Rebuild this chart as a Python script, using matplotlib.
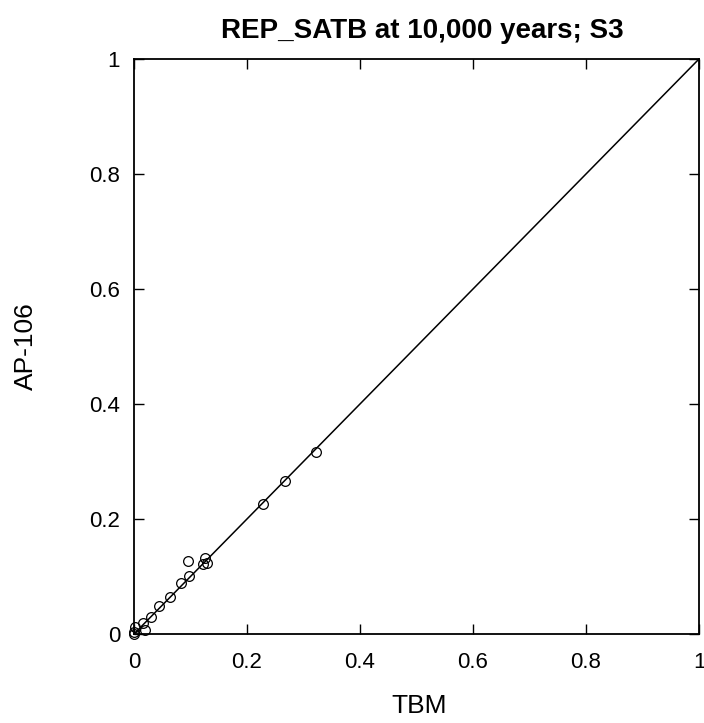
import matplotlib
matplotlib.use("Agg")
import matplotlib.pyplot as plt

plt.rcParams['font.family'] = ['Liberation Sans', 'DejaVu Sans']

tbm = [0.322, 0.268, 0.228, 0.095, 0.126, 0.130, 0.123, 0.098, 0.083, 0.064,
       0.045, 0.030, 0.016, 0.019, 0.002, 0.000, 0.000]
ap106 = [0.317, 0.266, 0.226, 0.127, 0.133, 0.124, 0.122, 0.100, 0.088, 0.065,
         0.049, 0.030, 0.019, 0.007, 0.013, 0.004, 0.000]
ref_line = [0, 1]
xticks = [0, 0.2, 0.4, 0.6, 0.8, 1]
xticklabels = ['0', '0.2', '0.4', '0.6', '0.8', '1']
yticks = [0, 0.2, 0.4, 0.6, 0.8, 1]
yticklabels = ['0', '0.2', '0.4', '0.6', '0.8', '1']

fig = plt.figure(figsize=(7.04, 7.23), dpi=100)
ax = fig.add_axes([0.1903, 0.1231, 0.8026, 0.7953])
ax.plot(ref_line, ref_line, color='black', lw=1.1, zorder=2)
ax.plot(tbm, ap106, linestyle='none', marker='o', markersize=7,
        markerfacecolor='none', markeredgecolor='black', markeredgewidth=0.9,
        zorder=3, clip_on=False)
ax.set_xlim(0, 1)
ax.set_ylim(0, 1)
ax.set_xticks(xticks)
ax.set_xticklabels(xticklabels)
ax.set_yticks(yticks)
ax.set_yticklabels(yticklabels)
ax.tick_params(direction='in', length=7, width=1, top=True, right=True,
               labelsize=16)
ax.tick_params(axis='x', pad=13)
ax.tick_params(axis='y', pad=10)
for s in ax.spines.values():
    s.set_linewidth(1.3)
ax.set_xlabel('TBM', fontsize=19)
ax.set_ylabel('AP-106', fontsize=19)
ax.xaxis.set_label_coords(0.505, -0.105)
ax.yaxis.set_label_coords(-0.17, 0.5)
ax.set_title('REP_SATB at 10,000 years; S3', fontsize=20, fontweight='bold',
             pad=15, x=0.51)
fig.savefig('out.png', dpi=100)
